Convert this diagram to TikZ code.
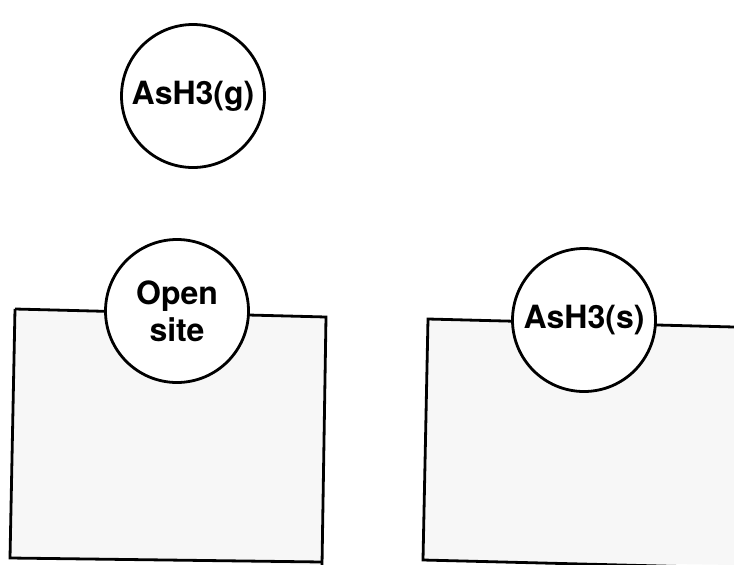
\documentclass[tikz,border=0pt]{standalone}
\usepackage{fontspec}
\setmainfont{TeX Gyre Heros}
\usetikzlibrary{positioning}

\begin{document}
\begin{tikzpicture}[x=1pt,y=-1pt,font=\bfseries\fontsize{32}{37}\selectfont]
            \tikzstyle{site}=[circle,line width=2.8pt,draw=black,fill=white,minimum size=143pt,inner sep=0pt,align=center]
            \tikzstyle{surface}=[line width=2.8pt,draw=black,line join=miter]
            \useasboundingbox (0,0) rectangle (734,565);

            % left surface
            \fill[black!3] (15,309) -- (326,317) -- (322,565) -- (10,558) -- cycle;
            \draw[surface] (15,309) -- (326,317) -- (322,565);
            \draw[surface] (15,309) -- (10,558) -- (322,562);
            % right surface
            \fill[black!3] (428,319) -- (734,327) -- (734,565) -- (423,560) -- cycle;
            \draw[surface] (734,327) -- (428,319) -- (423,560) -- (700,567);

            \node [site] (gas) at (193,96) {AsH3(g)};                     %gas phase
            \node [site] (open) at (177,311) {Open\\site};                %empty site
            \node [site] (ads) at (584,320) {AsH3(s)};                     %adsorbed
\end{tikzpicture}
\end{document}
